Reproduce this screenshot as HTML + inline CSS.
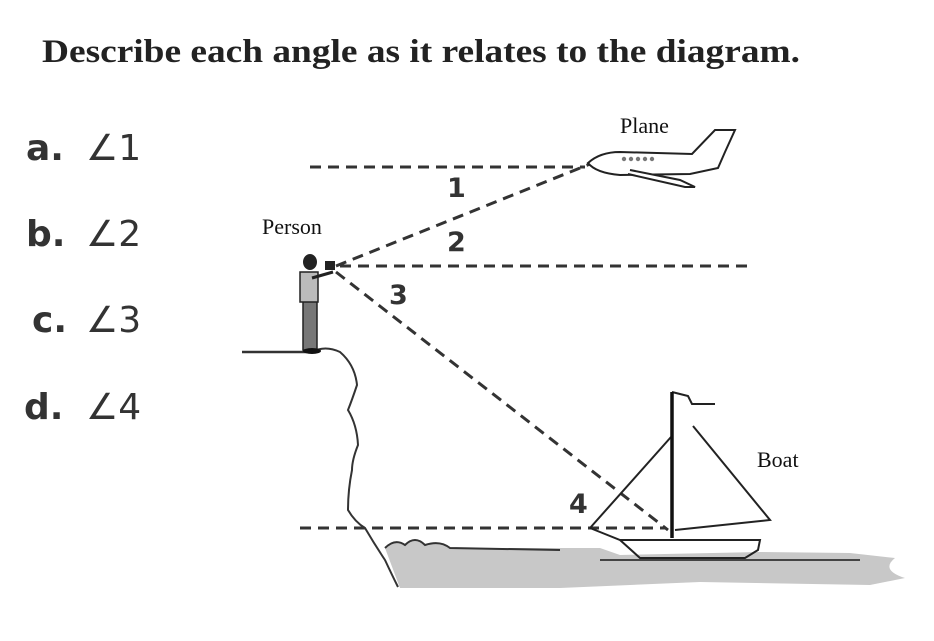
<!DOCTYPE html>
<html><head><style>
body{margin:0;background:#fff;width:934px;height:636px;overflow:hidden}
</style></head><body>
<svg width="934" height="636" viewBox="0 0 934 636" xmlns="http://www.w3.org/2000/svg">
<text x="42" y="62" font-family="Liberation Serif, serif" font-weight="bold" font-size="33" fill="#222" textLength="758" lengthAdjust="spacingAndGlyphs">Describe each angle as it relates to the diagram.</text>
<g font-family="DejaVu Sans, sans-serif" font-size="36" fill="#333">
<text x="26" y="160" font-weight="bold">a.</text><text x="86" y="160">∠1</text>
<text x="26" y="246" font-weight="bold">b.</text><text x="86" y="246">∠2</text>
<text x="32" y="332" font-weight="bold">c.</text><text x="86" y="332">∠3</text>
<text x="24" y="419" font-weight="bold">d.</text><text x="86" y="419">∠4</text>
</g>
<!-- water -->
<path d="M385 548 Q395 538 405 545 Q415 535 425 545 Q440 540 450 548 L600 548 L620 555 L760 552 L850 553 L895 558 Q880 570 905 578 L870 585 L700 582 L560 588 L400 588 Z" fill="#c8c8c8"/>
<path d="M385 548 Q395 538 405 545 Q415 535 425 545 Q440 540 450 548 L560 550" fill="none" stroke="#333" stroke-width="2"/>
<line x1="600" y1="560" x2="860" y2="560" stroke="#444" stroke-width="2"/>
<!-- cliff -->
<line x1="242" y1="352" x2="312" y2="352" stroke="#333" stroke-width="2.5"/>
<path d="M312 352 Q325 345 340 352 Q355 365 357 385 Q352 400 348 410 Q357 425 358 445 Q352 460 352 470 Q348 490 348 510 Q355 522 365 528 Q375 545 385 560 Q392 575 398 587" fill="none" stroke="#333" stroke-width="2"/>
<!-- person -->
<rect x="303" y="300" width="14" height="50" fill="#777" stroke="#222" stroke-width="1.5"/>
<rect x="300" y="272" width="18" height="30" fill="#bbb" stroke="#222" stroke-width="1.5"/>
<ellipse cx="310" cy="262" rx="7" ry="8" fill="#222"/>
<ellipse cx="312" cy="351" rx="9" ry="3" fill="#111"/>
<path d="M312 278 L333 272" stroke="#222" stroke-width="3"/>
<rect x="325" y="261" width="10" height="9" fill="#222"/>
<!-- dashed lines -->
<g stroke="#333" stroke-width="3" stroke-dasharray="11 7" fill="none">
<line x1="310" y1="167" x2="585" y2="167"/>
<line x1="336" y1="266" x2="590" y2="164"/>
<line x1="340" y1="266" x2="750" y2="266"/>
<line x1="336" y1="272" x2="668" y2="530"/>
<line x1="300" y1="528" x2="665" y2="528"/>
</g>
<g font-family="DejaVu Sans, sans-serif" font-weight="bold" font-size="27" fill="#333">
<text x="447" y="197">1</text><text x="447" y="251">2</text><text x="389" y="304">3</text><text x="569" y="513">4</text>
</g>
<g font-family="Liberation Serif, serif" font-size="22" fill="#111">
<text x="620" y="133">Plane</text><text x="262" y="234">Person</text><text x="757" y="467">Boat</text>
</g>
<!-- plane -->
<g fill="#fff" stroke="#222" stroke-width="2">
<path d="M588 163 Q600 152 620 152 L692 154 L715 130 L735 130 L725 152 L718 168 L690 174 L620 175 Q596 173 588 163 Z"/>
<path d="M630 170 L680 180 L695 187 L685 187 L628 174"/>
</g>
<g fill="#777"><circle cx="624" cy="159" r="2.2"/><circle cx="631" cy="159" r="2.2"/><circle cx="638" cy="159" r="2.2"/><circle cx="645" cy="159" r="2.2"/><circle cx="652" cy="159" r="2.2"/></g>
<!-- boat -->
<g stroke="#222" stroke-width="2" fill="none">
<path d="M590 528 L671 437"/>
<path d="M693 426 L770 520 L675 530"/>
<path d="M590 528 L620 540 L760 540 L758 550 L745 558 L640 558 L620 540"/>
<path d="M672 392 L688 396 L692 404 L715 404"/>
</g>
<line x1="672" y1="392" x2="672" y2="538" stroke="#111" stroke-width="3.5"/>
</svg>
</body></html>
